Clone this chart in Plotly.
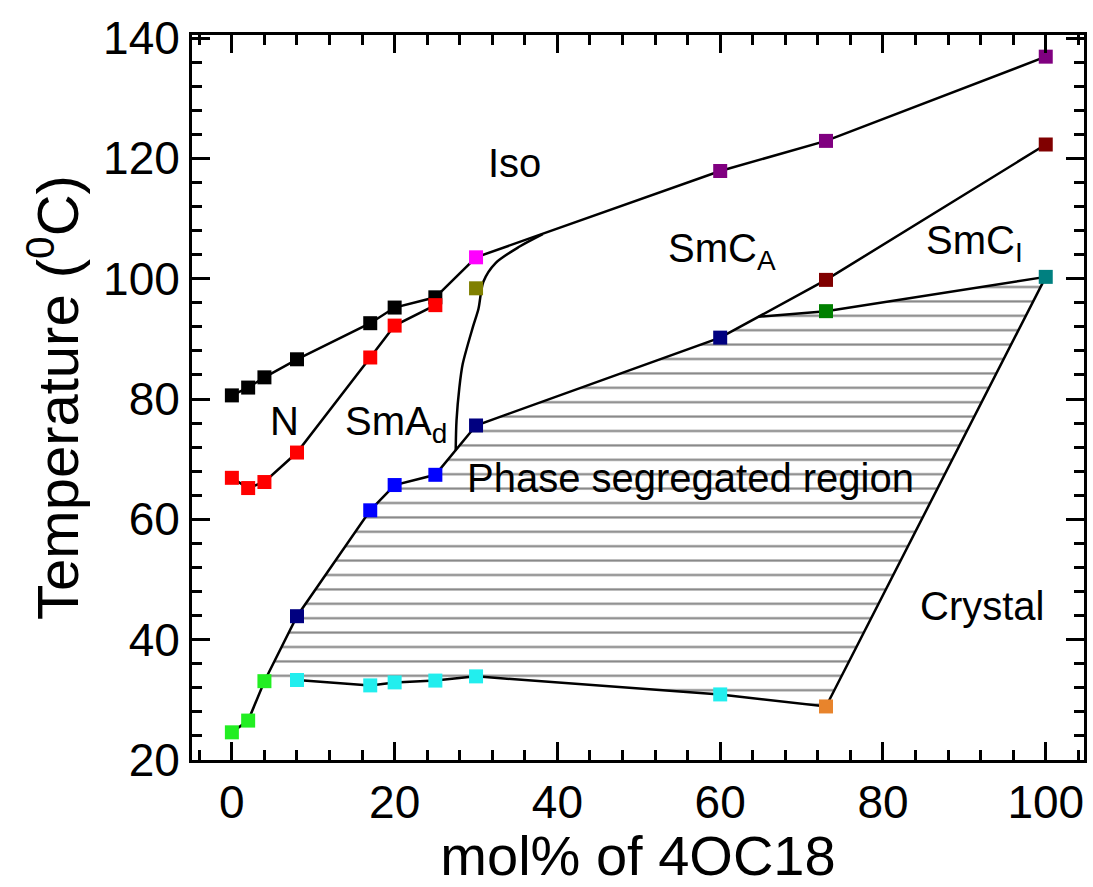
import plotly.graph_objects as go

# ---- phase transition temperatures (deg C) vs mol% of 4OC18 ----
x_low = [0, 2, 4, 8, 17, 20, 25]
t_iso_n = [80.6, 81.9, 83.6, 86.6, 92.6, 95.2, 96.9]      # Iso - N
t_n_sma = [66.9, 65.2, 66.2, 71.1, 86.9, 92.2, 95.6]      # N - SmAd

x_iso_hi = [30, 60, 73, 100]
t_iso_hi = [103.55, 117.9, 122.9, 136.9]                  # Iso - smectic
iso_hi_colors = ["#ff00ff", "#800080", "#800080", "#800080"]

x_olive = [30]
t_olive = [98.4]

x_green = [0, 2, 4]
t_green = [24.6, 26.55, 33.1]
x_blue = [8, 17, 20, 25, 30, 60]
t_blue = [43.9, 61.5, 65.7, 67.4, 75.6, 90.2]
blue_colors = ["#000080", "#0000ff", "#0000ff", "#0000ff", "#000080", "#000080"]
x_darkred = [73, 100]
t_darkred = [99.8, 122.3]

x_cyan = [8, 17, 20, 25, 30, 60]
t_cyan = [33.3, 32.4, 32.9, 33.2, 33.9, 30.9]
x_orange = [73]
t_orange = [28.9]
x_dkgreen = [73]
t_dkgreen = [94.6]
x_teal = [100]
t_teal = [100.3]

# triple point where the segregated-region top boundary meets the SmCA line
x_junction = [64.7]
t_junction = [93.67]

# SmAd / SmCA boundary (guide to the eye)
x_curve = [27.5, 27.6, 27.95, 28.36, 29.6, 30.3, 30.9, 32.4, 35.3, 38.2]
t_curve = [71.5, 76.4, 81.9, 85.8, 91.9, 95.0, 99.5, 102.6, 105.3, 107.4]

FONT = "Liberation Sans, Arial, sans-serif"

fig = go.Figure()

# hatched phase-segregated region
poly_x = x_green[-1:] + x_blue + x_junction + x_dkgreen + x_teal + x_orange + x_cyan[::-1] + x_green[-1:]
poly_t = t_green[-1:] + t_blue + t_junction + t_dkgreen + t_teal + t_orange + t_cyan[::-1] + t_green[-1:]
fig.add_trace(go.Scatter(
    x=poly_x, y=poly_t, mode="none", fill="toself", fillcolor="white",
    fillpattern=dict(shape="-", size=14.4, solidity=0.15, fgcolor="#858585",
                     bgcolor="white", fillmode="replace"),
    hoverinfo="skip", showlegend=False))

# boundary lines
lines = [
    (x_low + x_iso_hi, t_iso_n + t_iso_hi, "linear"),
    (x_low, t_n_sma, "linear"),
    (x_green + x_blue + x_darkred, t_green + t_blue + t_darkred, "linear"),
    (x_cyan + x_orange + x_teal, t_cyan + t_orange + t_teal, "linear"),
    (x_junction + x_dkgreen + x_teal, t_junction + t_dkgreen + t_teal, "linear"),
    (x_curve, t_curve, "spline"),
]
for lx, ly, shape in lines:
    fig.add_trace(go.Scatter(x=lx, y=ly, mode="lines",
                             line=dict(color="black", width=2.5, shape=shape, smoothing=0.8),
                             hoverinfo="skip", showlegend=False))

# markers
markers = [
    (x_low, t_iso_n, "#000000"),
    (x_low, t_n_sma, "#ff0000"),
    (x_iso_hi, t_iso_hi, iso_hi_colors),
    (x_olive, t_olive, "#808000"),
    (x_green, t_green, "#22ee22"),
    (x_blue, t_blue, blue_colors),
    (x_darkred, t_darkred, "#800000"),
    (x_cyan, t_cyan, "#22eeee"),
    (x_orange, t_orange, "#e8842c"),
    (x_dkgreen, t_dkgreen, "#008000"),
    (x_teal, t_teal, "#008080"),
]
for mx, my, col in markers:
    fig.add_trace(go.Scatter(x=mx, y=my, mode="markers",
                             marker=dict(symbol="square", size=14, color=col, line=dict(width=0)),
                             showlegend=False))

# region labels
LAB = dict(family=FONT, size=40, color="black")
labels = [
    ("Iso", 34.7, 119.2, "center"),
    ("SmC<sub>A</sub>", 53.4, 104.6, "left"),
    ("SmC<sub>I</sub>", 85.1, 106.0, "left"),
    ("N", 6.5, 76.4, "center"),
    ("SmA<sub>d</sub>", 13.7, 75.8, "left"),
    ("Phase segregated region", 56.3, 66.9, "center"),
    ("Crystal", 92.2, 45.6, "center"),
]
for txt, lx, ly, anchor in labels:
    fig.add_annotation(x=lx, y=ly, text=txt, showarrow=False, font=LAB,
                       xanchor=anchor, yanchor="middle")

axis_common = dict(
    showgrid=False, zeroline=False,
    showline=True, linewidth=3, linecolor="black", mirror="ticks",
    ticks="inside", ticklen=18, tickwidth=3, tickcolor="black",
    tickfont=dict(family=FONT, size=46, color="black"),
    tickmode="linear", tick0=0, dtick=20,
    minor=dict(ticks="inside", ticklen=10, tickwidth=3, tickcolor="black", dtick=4, tick0=0),
)

fig.update_layout(
    width=1093, height=887,
    margin=dict(l=192, r=6, t=35, b=127),
    paper_bgcolor="white", plot_bgcolor="white",
    font=dict(family=FONT, color="black"),
    xaxis=dict(range=[-4.9, 104.7],
               title=dict(text="mol% of 4OC18", font=dict(family=FONT, size=56), standoff=12),
               **axis_common),
    yaxis=dict(range=[20, 140.5],
               title=dict(text="Temperature (<sup>0</sup>C)", font=dict(family=FONT, size=58), standoff=6),
               **axis_common),
)

fig.write_html("out.html")
